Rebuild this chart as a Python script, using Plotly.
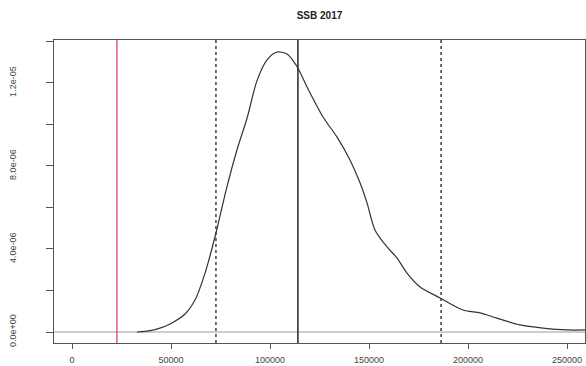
import plotly.graph_objects as go

# Kernel density of SSB 2017 (x: SSB, y: density)
ssb = [32800, 39400, 44400, 49500, 57100, 62100, 67200, 72700, 78000, 83300,
       88400, 93400, 98500, 103500, 108600, 111600, 114100, 118700, 126800,
       133800, 140400, 145500, 149000, 153000, 159100, 164100, 169200, 175800,
       185900, 197500, 206100, 214600, 226300, 237900, 250000, 259600]
density = [0.0, 0.07e-6, 0.19e-6, 0.39e-6, 0.87e-6, 1.54e-6, 2.84e-6, 4.77e-6,
           6.90e-6, 8.77e-6, 10.30e-6, 12.10e-6, 13.11e-6, 13.49e-6, 13.40e-6,
           13.08e-6, 12.72e-6, 11.81e-6, 10.36e-6, 9.40e-6, 8.29e-6, 7.18e-6,
           6.22e-6, 4.92e-6, 4.10e-6, 3.57e-6, 2.84e-6, 2.17e-6, 1.64e-6,
           1.06e-6, 0.92e-6, 0.67e-6, 0.34e-6, 0.19e-6, 0.10e-6, 0.10e-6]

# Reference points: limit (red), interval bounds (dashed), central value (solid)
ref_limit = 22700
ci_bounds = [72700, 186400]
central = 114100

x_ticks = [0, 50000, 100000, 150000, 200000, 250000]
x_tick_text = ["0", "50000", "100000", "150000", "200000", "250000"]
y_ticks = [0, 2e-6, 4e-6, 6e-6, 8e-6, 10e-6, 12e-6, 14e-6]
y_tick_text = ["0.0e+00", "", "4.0e-06", "", "8.0e-06", "", "1.2e-05", ""]

x_range = [-9090, 259090]
y_range = [-0.53e-6, 14.07e-6]

fig = go.Figure()

# zero baseline
fig.add_trace(go.Scatter(x=x_range, y=[0, 0], mode="lines",
                         line=dict(color="#9a9a9a", width=1), hoverinfo="skip"))

# vertical markers
fig.add_trace(go.Scatter(x=[ref_limit, ref_limit], y=y_range, mode="lines",
                         line=dict(color="#e0305a", width=1.2), hoverinfo="skip"))
for b in ci_bounds:
    fig.add_trace(go.Scatter(x=[b, b], y=y_range, mode="lines",
                             line=dict(color="#222222", width=1.3, dash="3px,3px"),
                             hoverinfo="skip"))
fig.add_trace(go.Scatter(x=[central, central], y=y_range, mode="lines",
                         line=dict(color="#333333", width=1.6), hoverinfo="skip"))

# density curve
fig.add_trace(go.Scatter(x=ssb, y=density, mode="lines", line_shape="spline",
                         line=dict(color="#333333", width=1.2, smoothing=0.8)))

font = "Liberation Sans, Arial, sans-serif"
fig.update_layout(
    width=586, height=366,
    margin=dict(l=54, r=1, t=40, b=23),
    paper_bgcolor="white", plot_bgcolor="white",
    showlegend=False,
    title=dict(text="<b>SSB 2017</b>", x=(54 + 585) / 2 / 586, xanchor="center",
               y=1 - 15 / 366, yanchor="middle",
               font=dict(family=font, size=10, color="#222222")),
    font=dict(family=font, size=9, color="#444444"),
)
fig.update_xaxes(range=x_range, tickvals=x_ticks, ticktext=x_tick_text,
                 ticks="outside", ticklen=5, tickcolor="#555555",
                 ticklabelstandoff=3,
                 showgrid=False, zeroline=False, showline=True, mirror=True,
                 linecolor="#555555", linewidth=1.3, tickfont=dict(size=9))
fig.update_yaxes(range=y_range, tickvals=y_ticks, ticktext=y_tick_text,
                 ticks="outside", ticklen=7, tickcolor="#555555", tickangle=-90,
                 ticklabelstandoff=26,
                 showgrid=False, zeroline=False, showline=True, mirror=True,
                 linecolor="#555555", linewidth=1.3, tickfont=dict(size=9))

fig.write_html("out.html")
